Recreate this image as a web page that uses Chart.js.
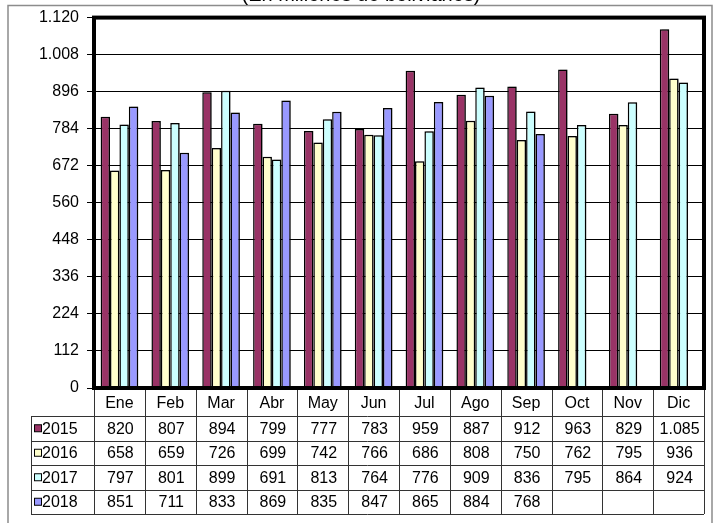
<!DOCTYPE html>
<html>
<head>
<meta charset="utf-8">
<script src="https://cdn.jsdelivr.net/npm/chart.js@4.4.1/dist/chart.umd.min.js"></script>
<style>
html,body{margin:0;padding:0;background:#fff;}
#wrap{position:relative;width:718px;height:523px;}
</style>
</head>
<body>
<div id="wrap"><canvas id="c" width="718" height="523"></canvas></div>
<script>
const titleText = '(En millones de bolivianos)';
const categories = ['Ene','Feb','Mar','Abr','May','Jun','Jul','Ago','Sep','Oct','Nov','Dic'];
const seriesLabels = ['2015','2016','2017','2018'];
const values2015 = [820,807,894,799,777,783,959,887,912,963,829,1085];
const values2016 = [658,659,726,699,742,766,686,808,750,762,795,936];
const values2017 = [797,801,899,691,813,764,776,909,836,795,864,924];
const values2018 = [851,711,833,869,835,847,865,884,768,null,null,null];
const yMin = 0, yMax = 1120, yStep = 112;
const colors = ['#993366','#FFFFCC','#CCFFFF','#9999FF'];

const allValues = [values2015, values2016, values2017, values2018];
const FONT = '"Liberation Sans", Arial, sans-serif';

function fmt(v){
  if (v === null || v === undefined) return '';
  return String(v).replace(/\B(?=(\d{3})+(?!\d))/g, '.');
}

const framePlugin = {
  id: 'frame',
  beforeDraw(chart){
    const ctx = chart.ctx;
    ctx.save();
    ctx.fillStyle = '#fff';
    ctx.fillRect(0,0,chart.width,chart.height);
    ctx.strokeStyle = '#8c8c8c';
    ctx.lineWidth = 1.5;
    ctx.beginPath();
    ctx.moveTo(8, 523); ctx.lineTo(8, 5.5); ctx.lineTo(712, 5.5); ctx.lineTo(712, 523);
    ctx.stroke();
    // title (clipped at top as in the reference)
    ctx.fillStyle = '#000';
    ctx.font = '20px ' + FONT;
    ctx.textAlign = 'center';
    ctx.textBaseline = 'alphabetic';
    ctx.fillText(titleText, 361, 1);
    ctx.restore();
  },
  beforeDatasetsDraw(chart){
    const ctx = chart.ctx;
    ctx.save();
    ctx.shadowColor = 'rgba(0,0,0,0.3)';
    ctx.shadowOffsetX = 2;
    ctx.shadowOffsetY = 0;
    ctx.shadowBlur = 0;
  },
  afterDatasetsDraw(chart){
    const ctx = chart.ctx;
    ctx.restore();
    const a = chart.chartArea;
    ctx.save();
    ctx.strokeStyle = '#000';
    ctx.lineWidth = 4;
    ctx.strokeRect(a.left, a.top, a.right - a.left, a.bottom - a.top);
    ctx.restore();
  },
  afterDraw(chart){
    const ctx = chart.ctx;
    const a = chart.chartArea;
    const xs = chart.scales.x;
    const n = categories.length;
    const cw = (a.right - a.left) / n;
    const headerTop = a.bottom + 2;
    const rowTop = 416;
    const rowH = 24.5;
    const nRows = seriesLabels.length;
    const bottom = rowTop + rowH * nRows;
    const legendLeft = 31;
    ctx.save();
    ctx.strokeStyle = '#333';
    ctx.lineWidth = 1;
    ctx.beginPath();
    for (let i = 0; i <= n; i++) {
      const x = Math.round(i < n ? xs.getPixelForValue(i) - cw/2 : xs.getPixelForValue(n-1) + cw/2) + 0.5;
      ctx.moveTo(x, headerTop); ctx.lineTo(x, bottom);
    }
    ctx.moveTo(legendLeft + 0.5, rowTop); ctx.lineTo(legendLeft + 0.5, bottom);
    for (let r = 0; r <= nRows; r++) {
      const y = Math.round(rowTop + r*rowH) + 0.5;
      ctx.moveTo(legendLeft, y); ctx.lineTo(a.right, y);
    }
    ctx.stroke();
    ctx.fillStyle = '#000';
    ctx.font = '16px ' + FONT;
    ctx.textAlign = 'center';
    ctx.textBaseline = 'middle';
    for (let i = 0; i < n; i++) {
      const cx = xs.getPixelForValue(i);
      ctx.fillText(categories[i], cx, (headerTop + rowTop)/2 + 1);
      for (let r = 0; r < nRows; r++) {
        ctx.fillText(fmt(allValues[r][i]), cx + 1, rowTop + r*rowH + rowH/2 + 1);
      }
    }
    ctx.textAlign = 'left';
    for (let r = 0; r < nRows; r++) {
      const cy = rowTop + r*rowH + rowH/2;
      ctx.fillStyle = colors[r];
      ctx.fillRect(34.5, cy - 3.5, 7, 7);
      ctx.strokeStyle = '#000';
      ctx.lineWidth = 1;
      ctx.strokeRect(34.5, cy - 3.5, 7, 7);
      ctx.fillStyle = '#000';
      ctx.fillText(seriesLabels[r], 42, cy + 1);
    }
    ctx.restore();
  }
};

new Chart(document.getElementById('c'), {
  type: 'bar',
  data: {
    labels: categories,
    datasets: seriesLabels.map((lab, k) => ({
      label: lab,
      data: allValues[k],
      backgroundColor: colors[k],
      borderColor: '#000',
      borderWidth: 1.5,
      borderSkipped: false,
      categoryPercentage: 0.74,
      barPercentage: 1.0
    }))
  },
  options: {
    responsive: false,
    animation: false,
    devicePixelRatio: 1,
    layout: { padding: { left: 0, top: 16, right: 14, bottom: 135 } },
    plugins: { legend: { display: false }, title: { display: false }, tooltip: { enabled: false } },
    scales: {
      x: {
        display: false,
        offset: true,
        grid: { display: false }
      },
      y: {
        min: yMin, max: yMax,
        afterFit(scale){ scale.width = 94; },
        ticks: {
          stepSize: yStep,
          padding: 8,
          color: '#000',
          font: { family: FONT, size: 16 },
          callback: (v) => fmt(v)
        },
        grid: { color: '#000', lineWidth: 1, tickLength: 7, drawTicks: true },
        border: { display: false }
      }
    }
  },
  plugins: [framePlugin]
});
</script>
</body>
</html>
